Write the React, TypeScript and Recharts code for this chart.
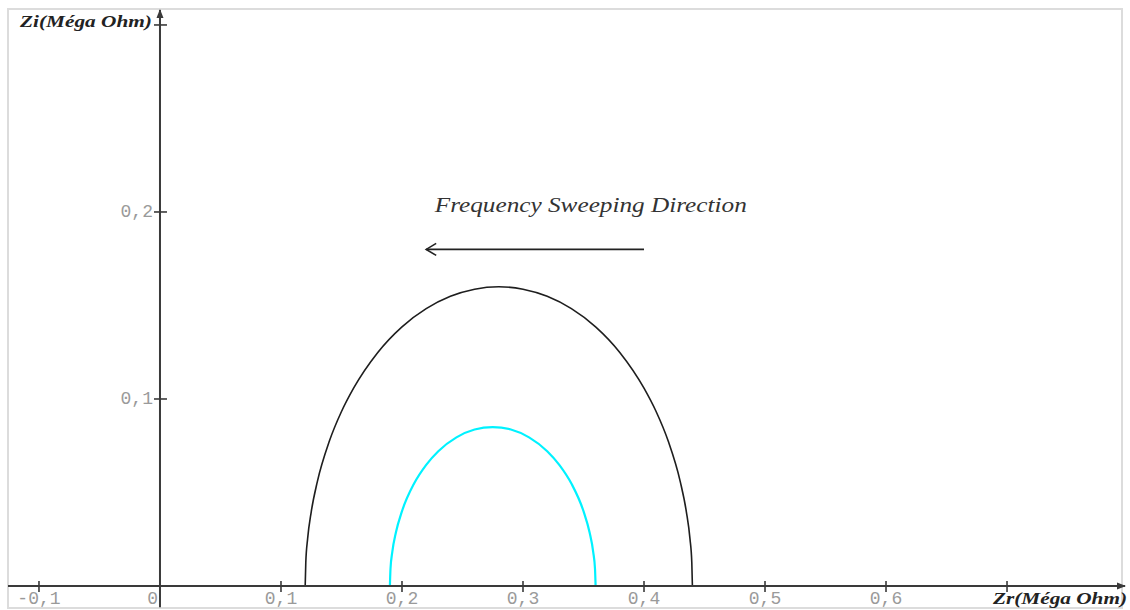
import React from 'react';
import { LineChart, Line, XAxis, YAxis, ReferenceLine, ReferenceDot } from 'recharts';

// outer arc (black)
const outerZr = [0.12, 0.1205, 0.122, 0.125, 0.13, 0.14, 0.15, 0.16, 0.18, 0.2, 0.22, 0.24, 0.26, 0.28, 0.3, 0.32, 0.34, 0.36, 0.38, 0.4, 0.41, 0.42, 0.43, 0.435, 0.438, 0.4395, 0.44];
const outerZi = [0, 0.0126, 0.0252, 0.0397, 0.0557, 0.0775, 0.0933, 0.1058, 0.1249, 0.1386, 0.1483, 0.1549, 0.1587, 0.16, 0.1587, 0.1549, 0.1483, 0.1386, 0.1249, 0.1058, 0.0933, 0.0775, 0.0557, 0.0397, 0.0252, 0.0126, 0];

// inner arc (cyan)
const innerZr = [0.19, 0.1905, 0.192, 0.195, 0.2, 0.21, 0.22, 0.23, 0.245, 0.26, 0.275, 0.29, 0.305, 0.32, 0.33, 0.34, 0.35, 0.355, 0.358, 0.3595, 0.36];
const innerZi = [0, 0.0092, 0.0183, 0.0287, 0.04, 0.0548, 0.0648, 0.0721, 0.0795, 0.0837, 0.085, 0.0837, 0.0795, 0.0721, 0.0648, 0.0548, 0.04, 0.0287, 0.0183, 0.0092, 0];

const xTicks = [-0.1, 0, 0.1, 0.2, 0.3, 0.4, 0.5, 0.6, 0.7];
const xTickLabels = ['-0,1', '0', '0,1', '0,2', '0,3', '0,4', '0,5', '0,6', ''];
const yTicks = [0.1, 0.2, 0.3];
const yTickLabels = ['0,1', '0,2', ''];

const X_DOMAIN: [number, number] = [-0.1256, 0.7975];
const Y_DOMAIN: [number, number] = [0, 0.308];

const toPoints = (xs: number[], ys: number[]) => xs.map((x, i) => ({ x, y: ys[i] }));
const outerData = toPoints(outerZr, outerZi);
const innerData = toPoints(innerZr, innerZi);

const AXIS = '#3a3a3a';
const TICK_FONT = { fontFamily: '"Liberation Mono", "DejaVu Sans Mono", monospace', fontSize: 18, fill: '#9a9a9a' };
const TITLE_FONT = { fontFamily: '"Liberation Serif", serif', fontStyle: 'italic', fontWeight: 700, fontSize: 17, fill: '#222' };

const XTick = ({ x, y, payload }: any) => {
    const i = xTicks.findIndex((t) => Math.abs(t - payload.value) < 1e-9);
    const label = xTickLabels[i] ?? '';
    const isZero = payload.value === 0;
    return (
        <g>
            {!isZero && <line x1={x} x2={x} y1={y - 5} y2={y + 6} stroke={AXIS} strokeWidth={1.6} />}
            <text x={isZero ? x - 2 : x} y={y + 18} textAnchor={isZero ? 'end' : 'middle'} {...TICK_FONT}>
                {label}
            </text>
        </g>
    );
};

const YTick = (label: string) => (props: any) => {
    const { cx, cy } = props;
    return (
        <g>
            <line x1={cx - 6} x2={cx + 7} y1={cy} y2={cy} stroke={AXIS} strokeWidth={1.6} />
            <text x={cx - 7} y={cy + 5} textAnchor="end" {...TICK_FONT}>{label}</text>
        </g>
    );
};

const UpArrow = ({ cx, cy }: any) => (
    <g>
        <path d={`M${cx},${cy - 1} L${cx - 3.5},${cy + 8} L${cx + 3.5},${cy + 8} Z`} fill={AXIS} />
        <text x={cx - 8} y={cy + 17} textAnchor="end" textLength={132} lengthAdjust="spacingAndGlyphs" {...TITLE_FONT}>
            Zi(Méga Ohm)
        </text>
    </g>
);

const RightArrow = ({ cx, cy }: any) => (
    <g>
        <path d={`M${cx + 1},${cy} L${cx - 8},${cy - 3.5} L${cx - 8},${cy + 3.5} Z`} fill={AXIS} />
        <text x={cx + 2} y={cy + 18} textAnchor="end" textLength={134} lengthAdjust="spacingAndGlyphs" {...TITLE_FONT}>
            Zr(Méga Ohm)
        </text>
    </g>
);

const SweepLabel = ({ cx, cy }: any) => (
    <text x={cx} y={cy} textAnchor="middle" textLength={312} lengthAdjust="spacingAndGlyphs"
        fontFamily='"Liberation Serif", serif' fontStyle="italic" fontSize={20} fill="#333">
        Frequency Sweeping Direction
    </text>
);

const SweepArrow = ({ x1, y1, x2, y2 }: any) => (
    <g stroke="#222" strokeWidth={1.6} fill="none">
        <line x1={x1} y1={y1} x2={x2} y2={y2} />
        <path d={`M${x2 + 10},${y2 - 6} L${x2},${y2} L${x2 + 10},${y2 + 6}`} />
    </g>
);

export default function App() {
    return (
        <div style={{ position: 'absolute', left: 0, top: 0, width: 1130, height: 610, background: '#fff' }}>
            <div style={{ position: 'absolute', left: 7, top: 8, width: 1112, height: 597, border: '2px solid #dcdcdc' }} />
            <div style={{ position: 'absolute', left: 0, top: 0 }}>
                <LineChart width={1130} height={610} margin={{ top: 10, right: 5, left: 8, bottom: 0 }}>
                    <XAxis
                        type="number"
                        dataKey="x"
                        domain={X_DOMAIN}
                        allowDataOverflow
                        ticks={xTicks}
                        interval={0}
                        height={24}
                        tickSize={0}
                        tickMargin={0}
                        tickLine={false}
                        axisLine={{ stroke: AXIS, strokeWidth: 2 }}
                        tick={<XTick />}
                    />
                    <YAxis type="number" domain={Y_DOMAIN} allowDataOverflow hide />
                    <ReferenceLine
                        segment={[{ x: 0, y: -0.0113 }, { x: 0, y: Y_DOMAIN[1] }]}
                        stroke={AXIS}
                        strokeWidth={2}
                        ifOverflow="visible"
                    />
                    {yTicks.map((t, i) => (
                        <ReferenceDot key={t} x={0} y={t} r={1} ifOverflow="visible" shape={YTick(yTickLabels[i])} />
                    ))}
                    <ReferenceDot x={0} y={Y_DOMAIN[1]} r={1} ifOverflow="visible" shape={UpArrow} />
                    <ReferenceDot x={X_DOMAIN[1]} y={0} r={1} ifOverflow="visible" shape={RightArrow} />
                    <ReferenceDot x={0.356} y={0.2} r={1} ifOverflow="visible" shape={SweepLabel} />
                    <ReferenceLine
                        segment={[{ x: 0.4, y: 0.18 }, { x: 0.22, y: 0.18 }]}
                        ifOverflow="visible"
                        shape={SweepArrow}
                    />
                    <Line data={outerData} dataKey="y" type="monotone" stroke="#1e1e1e" strokeWidth={1.6} dot={false} isAnimationActive={false} />
                    <Line data={innerData} dataKey="y" type="monotone" stroke="#00f2ff" strokeWidth={2.2} dot={false} isAnimationActive={false} />
                </LineChart>
            </div>
        </div>
    );
}
